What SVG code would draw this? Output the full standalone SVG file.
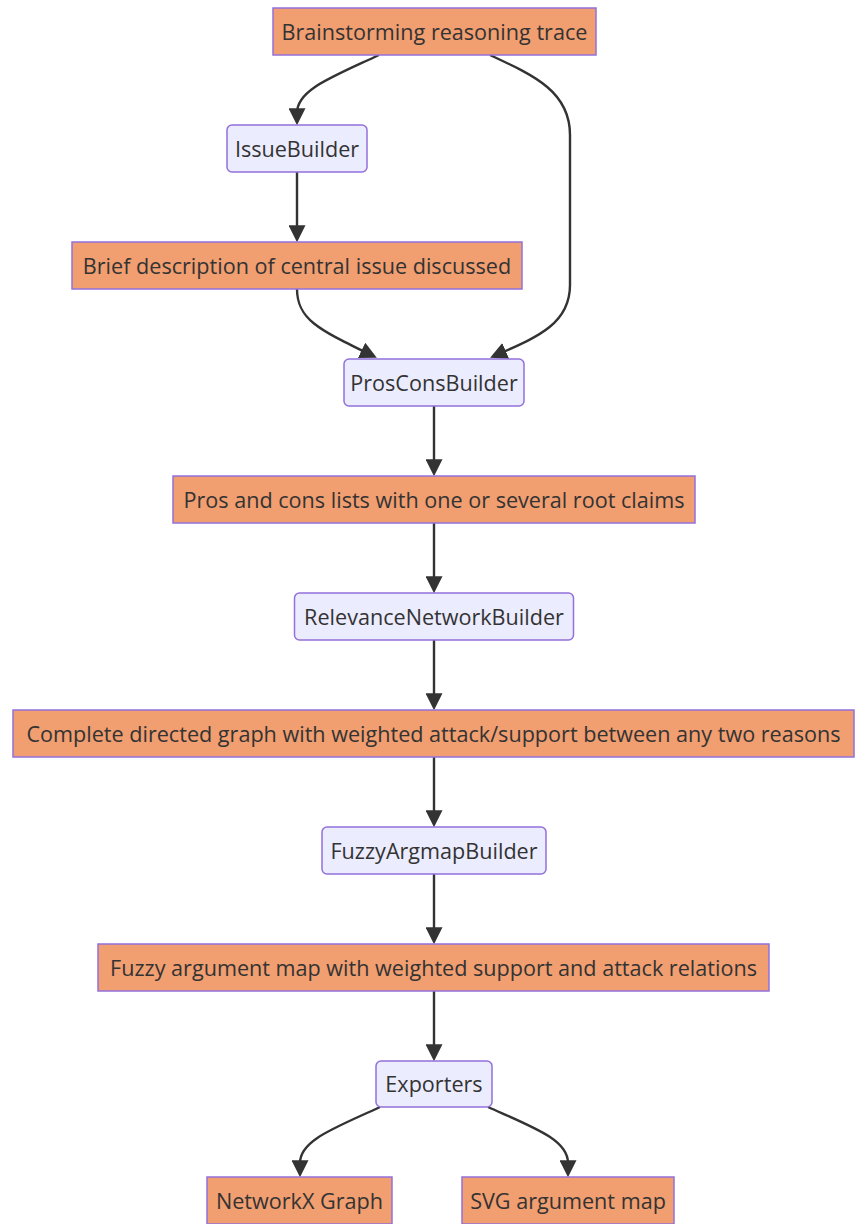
<svg xmlns="http://www.w3.org/2000/svg" width="855" height="1224" viewBox="0 0 855 1224">
<defs>
<style>
.data rect{fill:#F19E70;stroke:#9370DB;stroke-width:1.5}
.proc rect{fill:#ECECFF;stroke:#9370DB;stroke-width:1.5}
text{font-family:"Open Sans","Noto Sans",sans-serif;font-size:21.6px;fill:#333;text-anchor:middle}
.edges path{fill:none;stroke:#333;stroke-width:2.4;marker-end:url(#arr)}
</style>
<marker id="arr" viewBox="0 0 10 10" refX="7.5" refY="5" markerWidth="17" markerHeight="17" markerUnits="userSpaceOnUse" orient="auto">
<path d="M0,0 L10,5 L0,10 z" fill="#333"/>
</marker>
</defs>
<rect width="855" height="1224" fill="#fff"/>
<g class="edges" id="edges">
<path d="M379,55 C330,78 297,90 297,113 L297,121"/>
<path d="M490,55 C535,76 570,92 570,135 L570,285 C570,325 535,338 494,356"/>
<path d="M297,172 L297,238"/>
<path d="M297,289 C297,320 320,330 373,356"/>
<path d="M434,406 L434,472"/>
<path d="M434,523 L434,589"/>
<path d="M434,640 L434,706"/>
<path d="M434,757 L434,823"/>
<path d="M434,874 L434,940"/>
<path d="M434,991 L434,1057"/>
<path d="M380,1107 C335,1128 300,1140 300,1163 L300,1173"/>
<path d="M488,1107 C535,1128 568,1140 568,1163 L568,1173"/>
</g>
<g id="n1" class="data"><rect x="273" y="8" width="323" height="47"/><text x="434.5" y="39.5">Brainstorming reasoning trace</text></g>
<g id="n2" class="proc"><rect x="227" y="125" width="140" height="47" rx="5"/><text x="297" y="156.5">IssueBuilder</text></g>
<g id="n3" class="data"><rect x="72" y="242" width="450" height="47"/><text x="297" y="273.5">Brief description of central issue discussed</text></g>
<g id="n4" class="proc"><rect x="344" y="359" width="180" height="47" rx="5"/><text x="434" y="390.5">ProsConsBuilder</text></g>
<g id="n5" class="data"><rect x="173" y="476" width="522" height="47"/><text x="434" y="507.5">Pros and cons lists with one or several root claims</text></g>
<g id="n6" class="proc"><rect x="294.5" y="593" width="279" height="47" rx="5"/><text x="434" y="624.5">RelevanceNetworkBuilder</text></g>
<g id="n7" class="data"><rect x="13" y="710" width="841" height="47"/><text x="433.5" y="741.5">Complete directed graph with weighted attack/support between any two reasons</text></g>
<g id="n8" class="proc"><rect x="322" y="827" width="224" height="47" rx="5"/><text x="434" y="858.5">FuzzyArgmapBuilder</text></g>
<g id="n9" class="data"><rect x="98" y="944" width="671" height="47"/><text x="433.5" y="975.5">Fuzzy argument map with weighted support and attack relations</text></g>
<g id="n10" class="proc"><rect x="376" y="1061" width="116" height="46" rx="5"/><text x="434" y="1092">Exporters</text></g>
<g id="n11" class="data"><rect x="207" y="1177" width="185" height="47"/><text x="299.5" y="1208.5">NetworkX Graph</text></g>
<g id="n12" class="data"><rect x="462" y="1177" width="212" height="47"/><text x="568" y="1208.5">SVG argument map</text></g>
</svg>
